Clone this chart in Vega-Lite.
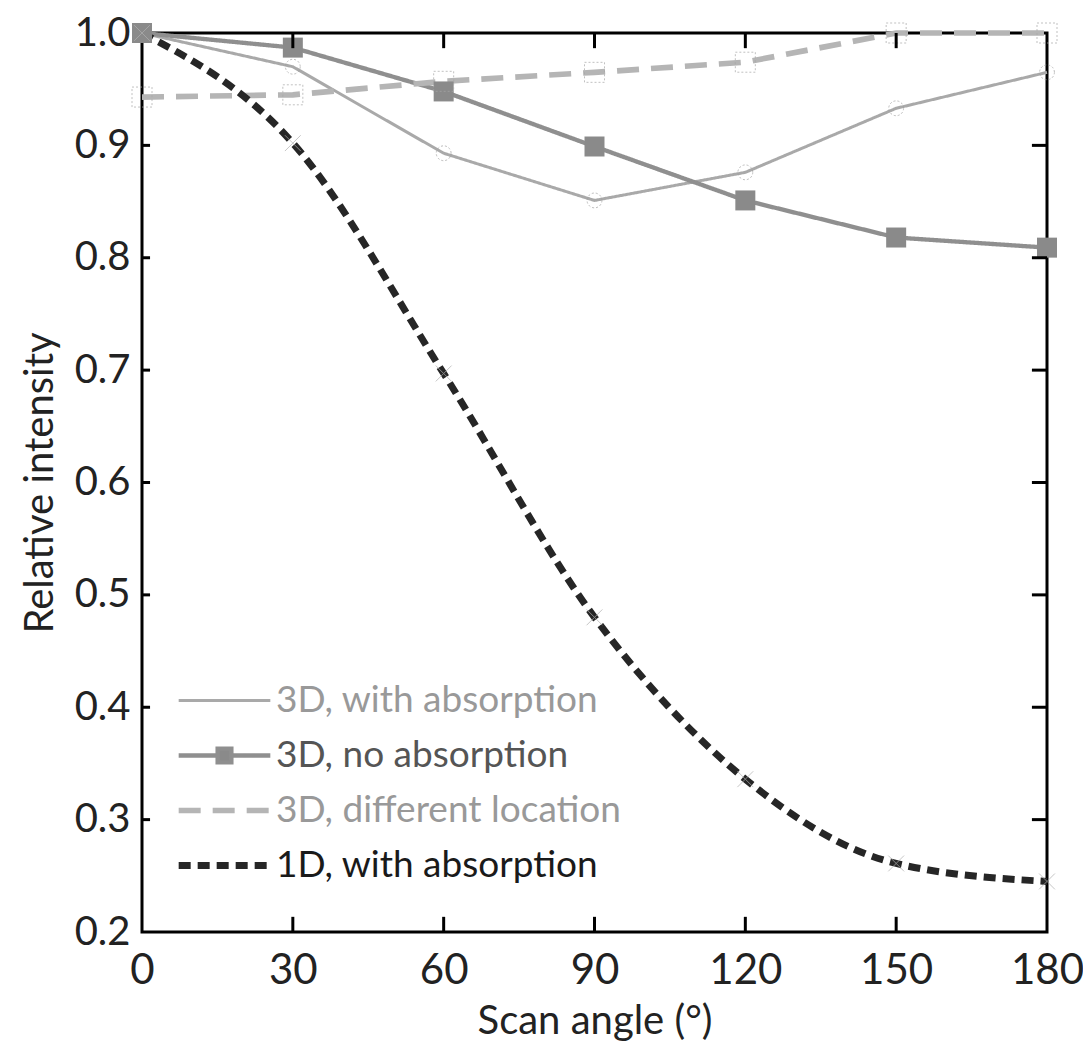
{
  "$schema": "https://vega.github.io/schema/vega-lite/v6.json",
  "width": 905,
  "height": 899,
  "autosize": {"type": "none"},
  "padding": {"left": 142, "top": 33, "right": 36, "bottom": 115},
  "background": "white",
  "config": {
    "font": "Lato",
    "view": {"stroke": "black", "strokeWidth": 3},
    "axis": {"domain": false, "ticks": false, "grid": false, "labelColor": "#222", "titleColor": "#222", "titleFontWeight": "normal"}
  },
  "datasets": {
    "series": [
      {"angle": 0, "value": 1.0, "series": "3D, with absorption"},
      {"angle": 30, "value": 0.970, "series": "3D, with absorption"},
      {"angle": 60, "value": 0.893, "series": "3D, with absorption"},
      {"angle": 90, "value": 0.851, "series": "3D, with absorption"},
      {"angle": 120, "value": 0.876, "series": "3D, with absorption"},
      {"angle": 150, "value": 0.933, "series": "3D, with absorption"},
      {"angle": 180, "value": 0.965, "series": "3D, with absorption"},
      {"angle": 0, "value": 1.0, "series": "3D, no absorption"},
      {"angle": 30, "value": 0.987, "series": "3D, no absorption"},
      {"angle": 60, "value": 0.948, "series": "3D, no absorption"},
      {"angle": 90, "value": 0.899, "series": "3D, no absorption"},
      {"angle": 120, "value": 0.851, "series": "3D, no absorption"},
      {"angle": 150, "value": 0.818, "series": "3D, no absorption"},
      {"angle": 180, "value": 0.809, "series": "3D, no absorption"},
      {"angle": 0, "value": 0.943, "series": "3D, different location"},
      {"angle": 30, "value": 0.945, "series": "3D, different location"},
      {"angle": 60, "value": 0.957, "series": "3D, different location"},
      {"angle": 90, "value": 0.965, "series": "3D, different location"},
      {"angle": 120, "value": 0.974, "series": "3D, different location"},
      {"angle": 150, "value": 1.0, "series": "3D, different location"},
      {"angle": 180, "value": 1.0, "series": "3D, different location"},
      {"angle": 0, "value": 1.0, "series": "1D, with absorption"},
      {"angle": 30, "value": 0.902, "series": "1D, with absorption"},
      {"angle": 60, "value": 0.697, "series": "1D, with absorption"},
      {"angle": 90, "value": 0.480, "series": "1D, with absorption"},
      {"angle": 120, "value": 0.336, "series": "1D, with absorption"},
      {"angle": 150, "value": 0.261, "series": "1D, with absorption"},
      {"angle": 180, "value": 0.245, "series": "1D, with absorption"}
    ],
    "xticks": [{"angle": 30}, {"angle": 60}, {"angle": 90}, {"angle": 120}, {"angle": 150}],
    "yticks": [{"value": 0.3}, {"value": 0.4}, {"value": 0.5}, {"value": 0.6}, {"value": 0.7}, {"value": 0.8}, {"value": 0.9}]
  },
  "data": {"name": "series"},
  "layer": [
    {
      "transform": [{"filter": "datum.series !== '1D, with absorption'"}],
      "mark": {"type": "line", "interpolate": "linear", "clip": false},
      "encoding": {
        "x": {"field": "angle", "type": "quantitative", "scale": {"domain": [0, 180], "nice": false},
          "axis": {"orient": "bottom", "values": [0, 30, 60, 90, 120, 150, 180], "labelPadding": 18, "labelFontSize": 42, "labelFlush": false, "title": "Scan angle (°)", "titleFontSize": 40, "titlePadding": 10}},
        "y": {"field": "value", "type": "quantitative", "scale": {"domain": [0.2, 1.0], "nice": false, "zero": false},
          "axis": {"orient": "left", "values": [0.2, 0.3, 0.4, 0.5, 0.6, 0.7, 0.8, 0.9, 1.0], "format": ".1f", "labelPadding": 12, "labelFontSize": 40, "labelFlush": false, "title": "Relative intensity", "titleFontSize": 40, "titlePadding": 14}},
        "color": {"field": "series", "type": "nominal",
          "scale": {"domain": ["3D, with absorption", "3D, no absorption", "3D, different location", "1D, with absorption"], "range": ["#a9a9a9", "#8f8f8f", "#b5b5b5", "#262626"]},
          "legend": {"title": null, "orient": "none", "legendX": 33, "legendY": 640, "symbolType": "stroke", "symbolSize": 8400, "labelFontSize": 37, "labelLimit": 0, "rowPadding": 0, "clipHeight": 55, "labelOffset": 2,
            "encode": {
              "labels": {"update": {"fill": {"signal": "datum.label === '1D, with absorption' ? '#1a1a1a' : (datum.label === '3D, no absorption' ? '#555555' : '#999999')"}}},
              "symbols": {"update": {
                "shape": {"signal": "datum.label === '3D, no absorption' ? 'M-1,0L-0.15,0M0.15,0L1,0M-0.15,-0.15L0.15,-0.15L0.15,0.15L-0.15,0.15Z' : 'stroke'"},
                "fill": {"signal": "datum.label === '3D, no absorption' ? '#8a8a8a' : 'transparent'"}
              }}
            }}},
        "strokeDash": {"field": "series", "type": "nominal",
          "scale": {"domain": ["3D, with absorption", "3D, no absorption", "3D, different location", "1D, with absorption"], "range": [[1, 0], [1, 0], [22, 12], [12, 7]]},
          "legend": {"title": null, "orient": "none", "legendX": 33, "legendY": 640}},
        "strokeWidth": {"field": "series", "type": "nominal",
          "scale": {"domain": ["3D, with absorption", "3D, no absorption", "3D, different location", "1D, with absorption"], "range": [3, 7, 5, 6]},
          "legend": {"title": null, "orient": "none", "legendX": 33, "legendY": 640}}
      }
    },
    {
      "transform": [{"filter": "datum.series === '1D, with absorption'"}],
      "mark": {"type": "line", "interpolate": "monotone", "clip": false},
      "encoding": {
        "x": {"field": "angle", "type": "quantitative"},
        "y": {"field": "value", "type": "quantitative"},
        "color": {"field": "series", "type": "nominal"},
        "strokeDash": {"field": "series", "type": "nominal"},
        "strokeWidth": {"field": "series", "type": "nominal"}
      }
    },
    {
      "transform": [{"filter": "datum.series === '3D, with absorption'"}],
      "mark": {"type": "point", "shape": "circle", "filled": false, "stroke": "#a0a0a0", "strokeWidth": 1, "strokeDash": [2, 2], "size": 220, "clip": false},
      "encoding": {"x": {"field": "angle", "type": "quantitative"}, "y": {"field": "value", "type": "quantitative"}}
    },
    {
      "transform": [{"filter": "datum.series === '3D, no absorption'"}],
      "mark": {"type": "point", "shape": "square", "filled": true, "fill": "#8a8a8a", "opacity": 1, "size": 400, "clip": false},
      "encoding": {"x": {"field": "angle", "type": "quantitative"}, "y": {"field": "value", "type": "quantitative"}}
    },
    {
      "transform": [{"filter": "datum.series === '3D, different location'"}],
      "mark": {"type": "point", "shape": "square", "filled": false, "stroke": "#a8a8a8", "strokeWidth": 1, "strokeDash": [2, 2], "size": 400, "clip": false},
      "encoding": {"x": {"field": "angle", "type": "quantitative"}, "y": {"field": "value", "type": "quantitative"}}
    },
    {
      "transform": [{"filter": "datum.series === '1D, with absorption'"}],
      "mark": {"type": "point", "shape": "M-1,-1L1,1M-1,1L1,-1", "filled": false, "stroke": "#b0b0b0", "strokeWidth": 1, "size": 250, "clip": false},
      "encoding": {"x": {"field": "angle", "type": "quantitative"}, "y": {"field": "value", "type": "quantitative"}}
    },
    {
      "data": {"name": "xticks"},
      "mark": {"type": "rule", "color": "black", "strokeWidth": 3},
      "encoding": {"x": {"field": "angle", "type": "quantitative"}, "y": {"datum": 0.2, "type": "quantitative"}, "y2": {"datum": 0.2135}}
    },
    {
      "data": {"name": "xticks"},
      "mark": {"type": "rule", "color": "black", "strokeWidth": 3},
      "encoding": {"x": {"field": "angle", "type": "quantitative"}, "y": {"datum": 1.0, "type": "quantitative"}, "y2": {"datum": 0.9865}}
    },
    {
      "data": {"name": "yticks"},
      "mark": {"type": "rule", "color": "black", "strokeWidth": 3},
      "encoding": {"y": {"field": "value", "type": "quantitative"}, "x": {"datum": 0, "type": "quantitative"}, "x2": {"datum": 1.6}}
    },
    {
      "data": {"name": "yticks"},
      "mark": {"type": "rule", "color": "black", "strokeWidth": 3},
      "encoding": {"y": {"field": "value", "type": "quantitative"}, "x": {"datum": 180, "type": "quantitative"}, "x2": {"datum": 177}}
    }
  ]
}
